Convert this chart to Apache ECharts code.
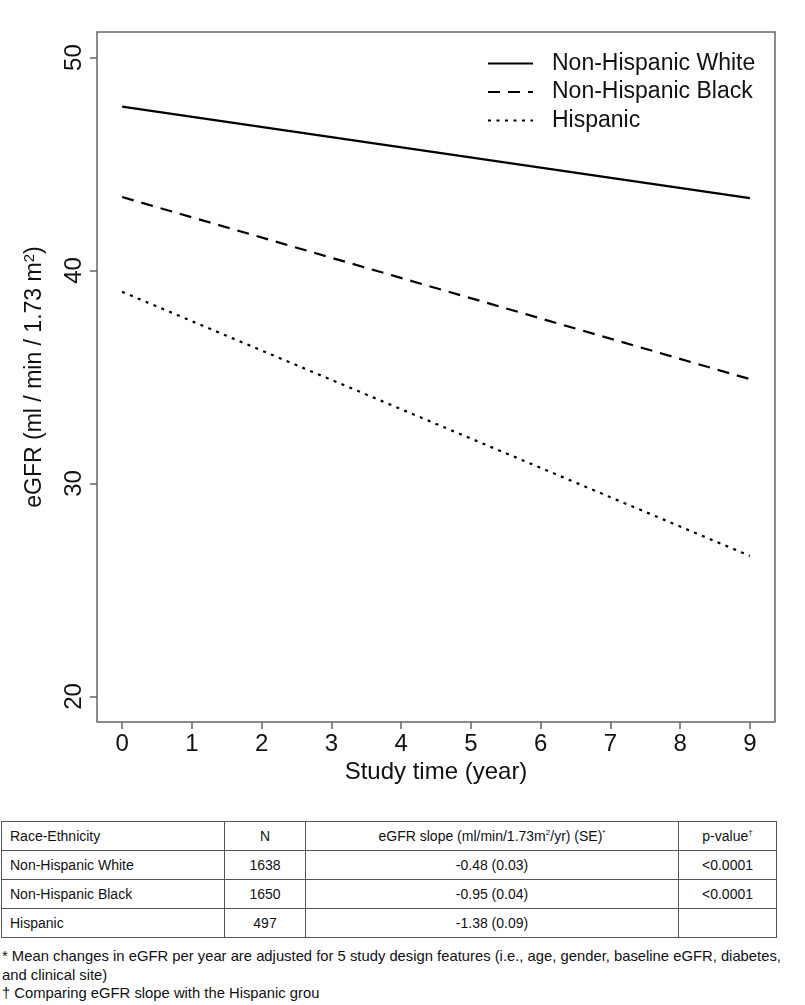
<!DOCTYPE html>
<html>
<head>
<meta charset="utf-8">
<script src="https://cdn.jsdelivr.net/npm/echarts@6/dist/echarts.min.js"></script>
<style>
  html, body { margin: 0; padding: 0; background: #fff; }
  #wrap { position: relative; width: 805px; height: 1005px; overflow: hidden; }
  #chart { position: absolute; left: 0; top: 0; width: 805px; height: 800px; }
  #tbl { position: absolute; left: 1px; top: 821px; border-collapse: collapse;
         font-family: "Liberation Sans", Arial, sans-serif; font-size: 14px; color: #111; }
  #tbl td { border: 1.5px solid #555; height: 28px; padding: 0; text-align: center; white-space: nowrap; }
  #tbl td.l { text-align: left; padding-left: 8px; }
  #tbl sup { font-size: 8px; vertical-align: 6px; line-height: 0; }
  #notes { position: absolute; left: 2px; top: 947px; width: 1000px;
           font-family: "Liberation Sans", Arial, sans-serif; font-size: 14.8px; line-height: 18.5px; color: #111; }
  #notes div { white-space: nowrap; }
</style>
</head>
<body>
<div id="wrap">
  <div id="chart"></div>
  <table id="tbl"></table>
  <div id="notes"></div>
</div>
<script>
// ---- data ----
const years = [0, 9];
const seriesNames = ['Non-Hispanic White', 'Non-Hispanic Black', 'Hispanic'];
const nhWhite = [47.7, 43.4];
const nhBlack = [43.45, 34.9];
const hispanic = [39.0, 26.6];
const xTicks = [0, 1, 2, 3, 4, 5, 6, 7, 8, 9];
const yTicks = [20, 30, 40, 50];
const xTitle = 'Study time (year)';

const tableHead = ['Race-Ethnicity', 'N', 'eGFR slope (ml/min/1.73m<sup>2</sup>/yr) (SE)<sup>*</sup>', 'p-value<sup>\u2020</sup>'];
const raceEthnicity = ['Non-Hispanic White', 'Non-Hispanic Black', 'Hispanic'];
const nCounts = ['1638', '1650', '497'];
const slopes = ['-0.48 (0.03)', '-0.95 (0.04)', '-1.38 (0.09)'];
const pValues = ['<0.0001', '<0.0001', ''];
const footnotes = [
  '* Mean changes in eGFR per year are adjusted for 5 study design features (i.e., age, gender, baseline eGFR, diabetes,',
  'and clinical site)',
  '\u2020 Comparing eGFR slope with the Hispanic grou'
];

// ---- chart ----
const chart = echarts.init(document.getElementById('chart'), null, { renderer: 'canvas' });
const pairs = (ys) => years.map((x, i) => [x, ys[i]]);
const lineW = 2.2;
const dashTypes = ['solid', [12, 8], [3, 5.5]];
const values = [nhWhite, nhBlack, hispanic];

chart.setOption({
  animation: false,
  grid: { left: 97, right: 30, top: 32, bottom: 78, show: true, borderColor: '#666', borderWidth: 1.5, backgroundColor: 'transparent' },
  legend: {
    left: 487, top: 52, orient: 'vertical', itemWidth: 45, itemHeight: 14, itemGap: 5.5, padding: 0,
    data: seriesNames,
    itemStyle: { color: 'rgba(0,0,0,0)', borderWidth: 0, opacity: 0 },
    textStyle: { fontFamily: 'Liberation Sans, Arial, sans-serif', fontSize: 23, color: '#111', padding: [0, 0, 0, 14] }
  },
  xAxis: {
    type: 'value', min: -0.36, max: 9.36,
    name: xTitle, nameLocation: 'middle', nameGap: 38, nameMoveOverlap: false,
    nameTextStyle: { fontFamily: 'Liberation Sans, Arial, sans-serif', fontSize: 24, color: '#111' },
    axisLine: { show: false, onZero: false },
    axisTick: { show: true, length: 7, lineStyle: { color: '#666', width: 1.5 }, customValues: xTicks },
    axisLabel: { customValues: xTicks, margin: 10, fontFamily: 'Liberation Sans, Arial, sans-serif', fontSize: 24, color: '#111' },
    splitLine: { show: false }
  },
  yAxis: {
    type: 'value', min: 18.8, max: 51.2,
    name: 'eGFR (ml / min / 1.73 m{s|2})', nameLocation: 'middle', nameRotate: 90, nameGap: 50, nameMoveOverlap: false,
    nameTextStyle: { fontFamily: 'Liberation Sans, Arial, sans-serif', fontSize: 23, color: '#111',
      rich: { s: { fontSize: 15, verticalAlign: 'top', padding: [0, 0, 10, 0], fontFamily: 'Liberation Sans, Arial, sans-serif' } } },
    axisLine: { show: false, onZero: false },
    axisTick: { show: true, length: 7, lineStyle: { color: '#666', width: 1.5 }, customValues: yTicks },
    axisLabel: { customValues: yTicks, rotate: 90, align: 'center', verticalAlign: 'bottom', margin: 11,
      fontFamily: 'Liberation Sans, Arial, sans-serif', fontSize: 24, color: '#111' },
    splitLine: { show: false }
  },
  series: seriesNames.map((name, i) => ({
    name, type: 'line', data: pairs(values[i]), symbol: 'none',
    lineStyle: { color: '#000', width: lineW, type: dashTypes[i], cap: 'butt' },
    itemStyle: { color: '#000' }
  }))
});

// ---- table ----
const colW = [223, 81, 373, 98];
const tbl = document.getElementById('tbl');
const esc = s => s.replace(/&/g, '&amp;').replace(/</g, '&lt;');
const cell = (content, left) => `<td class="${left ? 'l' : ''}">${content}</td>`;
let html = '<colgroup>' + colW.map(w => `<col style="width:${w}px">`).join('') + '</colgroup>';
html += '<tr>' + tableHead.map((h, i) => cell(h, i === 0)).join('') + '</tr>';
raceEthnicity.forEach((r, i) => {
  html += '<tr>' + cell(esc(r), true) + cell(esc(nCounts[i])) + cell(esc(slopes[i])) + cell(esc(pValues[i])) + '</tr>';
});
tbl.style.tableLayout = 'fixed';
tbl.style.width = colW.reduce((a, b) => a + b, 0) + 'px';
tbl.innerHTML = html;
document.getElementById('notes').innerHTML = footnotes.map(f => `<div>${esc(f)}</div>`).join('');
</script>
</body>
</html>
